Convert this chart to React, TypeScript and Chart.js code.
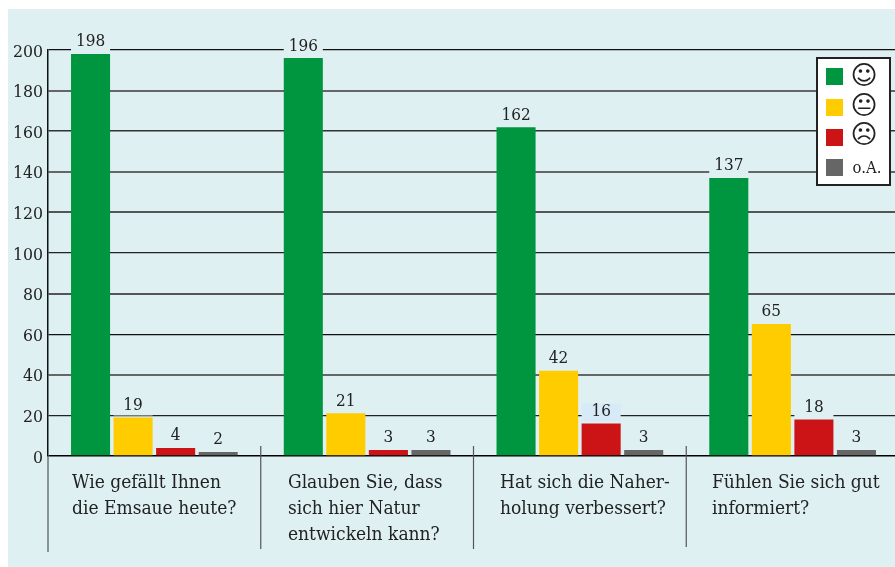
import React, { useEffect, useRef } from "react";
import { Chart, registerables } from "chart.js";

Chart.register(...registerables);

const categories = [
  ["Wie gefällt Ihnen", "die Emsaue heute?"],
  ["Glauben Sie, dass", "sich hier Natur", "entwickeln kann?"],
  ["Hat sich die Naher-", "holung verbessert?"],
  ["Fühlen Sie sich gut", "informiert?"],
];
const seriesNames = ["☺", "😐", "☹", "o.A."];
const positive = [198, 196, 162, 137];
const neutral = [19, 21, 42, 65];
const negative = [4, 3, 16, 18];
const noAnswer = [2, 3, 3, 3];
const colors = ["#009640", "#FFCC00", "#CC1417", "#666666"];
const gridColors: Record<number, string> = {
  200: "#111", 180: "#666", 160: "#333", 140: "#666", 120: "#555",
  100: "#222", 80: "#555", 60: "#111", 40: "#666", 20: "#222", 0: "#000",
};
const gridWidths: Record<number, number> = {
  200: 1.2, 180: 2, 160: 1.5, 140: 2, 120: 2,
  100: 1.3, 80: 2, 60: 1.2, 40: 2, 20: 1.3, 0: 1.6,
};

const PANEL = "#DFF0F3";
const PATCH_HIGHLIGHT = "#D6EAF8";
const SERIF = '"DejaVu Serif Condensed", "DejaVu Serif", serif';

const panelPlugin = {
  id: "panel",
  beforeDraw(chart: any) {
    const c = chart.ctx;
    c.save();
    c.fillStyle = PANEL;
    c.fillRect(8, 9, 892, 558);
    c.restore();
  },
};

const overlayPlugin = {
  id: "overlay",
  afterDatasetsDraw(chart: any) {
    const c = chart.ctx;
    const x = chart.scales.x;
    const y = chart.scales.y;
    c.save();
    chart.data.datasets.forEach((ds: any, di: number) => {
      const meta = chart.getDatasetMeta(di);
      meta.data.forEach((bar: any, i: number) => {
        const w = bar.width;
        c.fillStyle = di === 2 && i === 2 ? PATCH_HIGHLIGHT : PANEL;
        c.fillRect(bar.x - w / 2, bar.y - 20, w, 18);
        c.fillStyle = "#222";
        c.font = `17px ${SERIF}`;
        c.textAlign = "center";
        c.textBaseline = "middle";
        c.fillText(String(ds.data[i]), bar.x, bar.y - 12);
      });
    });
    const step = x.width / categories.length;
    c.strokeStyle = "#555";
    c.lineWidth = 1.2;
    const ends = [552, 549, 549, 547];
    ends.forEach((end, i) => {
      const px = x.left + step * i;
      c.beginPath();
      c.moveTo(px, i === 0 ? y.bottom : y.bottom - 10);
      c.lineTo(px, end);
      c.stroke();
    });
    const starts = [72, 288, 500, 712];
    c.font = `19px ${SERIF}`;
    c.fillStyle = "#222";
    c.textAlign = "left";
    c.textBaseline = "middle";
    categories.forEach((lines, i) => {
      lines.forEach((line, j) => {
        c.fillText(line, starts[i], 483 + j * 26);
      });
    });
    c.fillStyle = "#fff";
    c.fillRect(817, 58, 73, 127);
    c.strokeStyle = "#222";
    c.lineWidth = 2;
    c.strokeRect(817, 58, 73, 127);
    const swatchTops = [68, 99, 129, 159];
    const labelRows = [77, 107, 136, 169];
    seriesNames.forEach((name, i) => {
      c.fillStyle = colors[i];
      c.fillRect(826, swatchTops[i], 17, 17);
      c.fillStyle = "#222";
      c.textAlign = "center";
      c.font = i === 3 ? `16.5px ${SERIF}` : `26px "DejaVu Sans"`;
      c.fillText(name, i === 3 ? 867 : 864, labelRows[i]);
    });
    c.restore();
  },
};

export default function App() {
  const ref = useRef<HTMLCanvasElement>(null);
  useEffect(() => {
    document.body.style.margin = "0";
    const chart = new Chart(ref.current!, {
      type: "bar",
      data: {
        labels: categories as any,
        datasets: [positive, neutral, negative, noAnswer].map((data, i) => ({
          label: seriesNames[i],
          data,
          backgroundColor: colors[i],
          categoryPercentage: 0.8,
          barPercentage: 0.918,
        })),
      },
      options: {
        animation: false,
        responsive: false,
        layout: { padding: { top: 50, left: 0, right: 0, bottom: 0 } },
        plugins: { legend: { display: false }, tooltip: { enabled: false } },
        scales: {
          x: {
            ticks: { display: false },
            grid: { display: false },
            border: { display: false },
            afterFit: (s: any) => { s.height = 111; },
          },
          y: {
            min: 0,
            max: 200,
            ticks: {
              stepSize: 20,
              color: "#222",
              font: { family: "DejaVu Serif Condensed, DejaVu Serif, serif", size: 17.5 },
              padding: 5,
              labelOffset: 2,
            },
            grid: {
              color: (ctx: any) => gridColors[ctx.tick?.value ?? 0],
              lineWidth: (ctx: any) => gridWidths[ctx.tick?.value ?? 0],
              drawTicks: false,
            },
            border: { color: "#111", width: 1.5 },
            afterFit: (s: any) => { s.width = 48; },
          },
        },
      },
      plugins: [panelPlugin, overlayPlugin],
    });
    return () => chart.destroy();
  }, []);
  return (
    <div style={{ position: "absolute", left: 0, top: 0, width: 895, height: 567, overflow: "hidden", background: "#fff" }}>
      <canvas ref={ref} width={899} height={567} style={{ display: "block" }} />
    </div>
  );
}
